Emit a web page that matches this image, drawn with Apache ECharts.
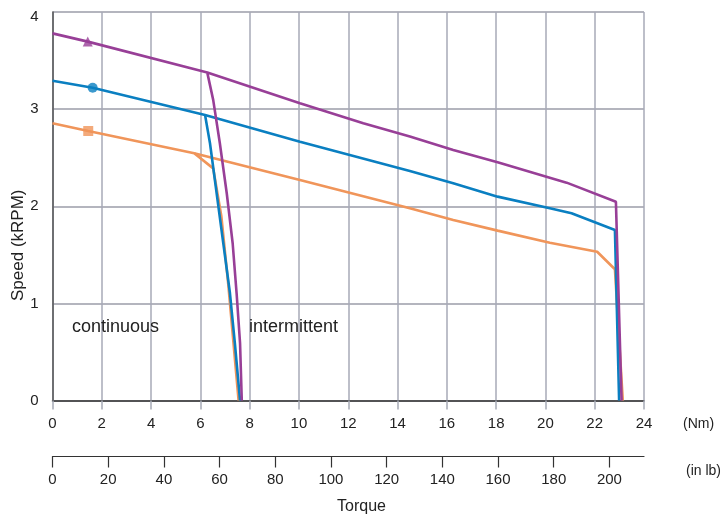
<!DOCTYPE html>
<html>
<head>
<meta charset="utf-8">
<script src="https://cdn.jsdelivr.net/npm/echarts@6/dist/echarts.min.js"></script>
<style>
html,body{margin:0;padding:0;background:#fff;}
#chart{width:725px;height:520px;}
</style>
</head>
<body>
<div id="chart"></div>
<script>
// Torque in Nm, speed in kRPM
var purpleCont = [[0, 3.78], [1.43, 3.695], [6.28, 3.376], [6.52, 3.095], [6.79, 2.649], [7.07, 2.134], [7.31, 1.619], [7.47, 1.104], [7.61, 0.589], [7.68, 0]];
var purpleInt  = [[6.28, 3.376], [10.04, 3.06], [12.61, 2.855], [14.5, 2.717], [16.26, 2.58], [18.06, 2.453], [20.86, 2.243], [22.86, 2.047], [23.09, 0]];
var blueCont   = [[0, 3.293], [1.63, 3.22], [6.19, 2.94], [6.39, 2.649], [6.66, 2.134], [6.93, 1.619], [7.20, 1.104], [7.40, 0.589], [7.61, 0]];
var blueInt    = [[6.19, 2.94], [10.04, 2.665], [14.5, 2.364], [16.26, 2.237], [18.06, 2.099], [20.18, 1.979], [21.06, 1.928], [22.82, 1.756], [22.99, 0]];
var orangeCont = [[0, 2.855], [1.45, 2.775], [5.75, 2.546], [6.52, 2.39], [6.85, 1.9], [7.13, 1.2], [7.55, 0]];
var orangeInt  = [[5.75, 2.546], [10.04, 2.271], [14.5, 1.98], [16.26, 1.859], [18.06, 1.749], [20.18, 1.625], [22.10, 1.532], [22.82, 1.351], [23.14, 0]];
var markerTriangle = [[1.43, 3.695]];
var markerCircle   = [[1.63, 3.22]];
var markerSquare   = [[1.45, 2.775]];
var nmTicks = [0, 2, 4, 6, 8, 10, 12, 14, 16, 18, 20, 22, 24];
var inlbTicks = [0, 20, 40, 60, 80, 100, 120, 140, 160, 180, 200];
var speedTicks = [0, 1, 2, 3, 4];
var NM_TO_INLB = 8.851;

var FONT = "'Liberation Sans', Arial, Helvetica, sans-serif";
var PURPLE = '#983f97', BLUE = '#0a7fc1', ORANGE = '#f0955a';
var GRID = '#a7aab7';

var chart = echarts.init(document.getElementById('chart'), null, {renderer: 'canvas'});

function lineSeries(data, color, z) {
  return {type: 'line', data: data, xAxisIndex: 0, yAxisIndex: 0, symbol: 'none',
    lineStyle: {color: color, width: 2.6}, z: z, animation: false};
}
function markerSeries(data, color, symbol, size, z) {
  return {type: 'scatter', data: data, xAxisIndex: 0, yAxisIndex: 0, symbol: symbol,
    symbolSize: size, itemStyle: {color: color}, z: z, animation: false};
}

chart.setOption({
  animation: false,
  backgroundColor: '#ffffff',
  textStyle: {fontFamily: FONT},
  grid: {left: 52.5, right: 81, top: 12, bottom: 119.5, containLabel: false},
  xAxis: [{
    type: 'value', min: nmTicks[0], max: nmTicks[nmTicks.length - 1], interval: 2,
    position: 'bottom',
    axisLine: {show: true, onZero: false, lineStyle: {color: '#333', width: 1.5}},
    axisTick: {show: true, length: 9, lineStyle: {color: GRID, width: 1.5}},
    axisLabel: {color: '#222', fontSize: 15, margin: 16, fontFamily: FONT},
    splitLine: {show: true, lineStyle: {color: GRID, width: 1.5}}
  }, {
    type: 'value', min: 0, max: nmTicks[nmTicks.length - 1] * NM_TO_INLB,
    position: 'bottom', offset: 56,
    axisLine: {show: true, onZero: false, lineStyle: {color: '#333', width: 1.2}},
    axisTick: {show: true, length: 11, customValues: inlbTicks, lineStyle: {color: '#333', width: 1.2}},
    axisLabel: {color: '#222', fontSize: 15, margin: 16, customValues: inlbTicks, fontFamily: FONT},
    splitLine: {show: false}
  }],
  yAxis: [{
    type: 'value', min: speedTicks[0], max: speedTicks[speedTicks.length - 1], interval: 1,
    axisLine: {show: true, lineStyle: {color: '#555', width: 1.5}},
    axisTick: {show: false},
    axisLabel: {color: '#222', fontSize: 15, margin: 14, fontFamily: FONT,
      formatter: function (v) { return v === 4 ? '{top|4}' : String(v); },
      rich: {top: {fontSize: 15, padding: [10, 0, 0, 0], fontFamily: FONT, color: '#222'}}},
    splitLine: {show: true, lineStyle: {color: '#9b9da8', width: 1.5}}
  }],
  series: [
    lineSeries(orangeCont, ORANGE, 2),
    lineSeries(orangeInt, ORANGE, 2),
    lineSeries(blueCont, BLUE, 3),
    lineSeries(blueInt, BLUE, 3),
    lineSeries(purpleCont, PURPLE, 4),
    lineSeries(purpleInt, PURPLE, 4),
    markerSeries(markerSquare, ORANGE, 'rect', 10, 5),
    markerSeries(markerCircle, BLUE, 'circle', 10, 5),
    markerSeries(markerTriangle, PURPLE, 'triangle', 10, 5)
  ],
  graphic: [
    {type: 'text', z: 100, left: 72, top: 318, style: {text: 'continuous', fill: '#222', font: '18px ' + FONT}},
    {type: 'text', z: 100, left: 249, top: 318, style: {text: 'intermittent', fill: '#222', font: '18px ' + FONT}},
    {type: 'text', z: 100, left: 683, top: 417, style: {text: '(Nm)', fill: '#222', font: '14px ' + FONT}},
    {type: 'text', z: 100, left: 686, top: 464, style: {text: '(in lb)', fill: '#222', font: '14px ' + FONT}},
    {type: 'text', z: 100, left: 337, top: 499, style: {text: 'Torque', fill: '#222', font: '16px ' + FONT}},
    {type: 'text', z: 100, x: 10, y: 301, rotation: Math.PI / 2, style: {text: 'Speed (kRPM)', fill: '#222', font: '17px ' + FONT}}
  ]
});
</script>
</body>
</html>
